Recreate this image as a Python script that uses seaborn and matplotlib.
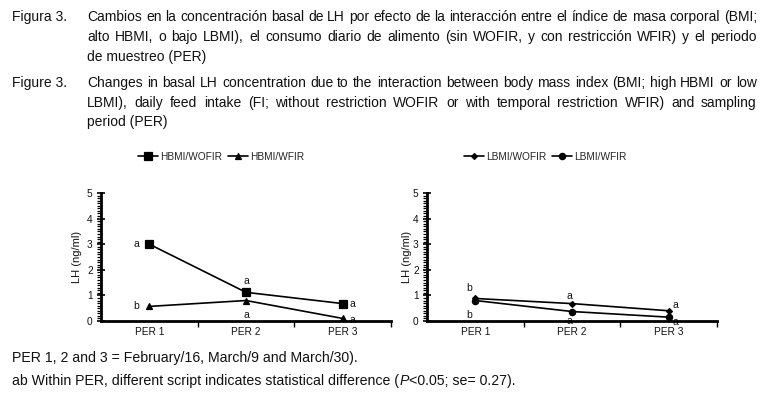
import matplotlib
matplotlib.use('Agg')
import matplotlib.pyplot as plt
import seaborn as sns
import pandas as pd
from matplotlib.ticker import MultipleLocator

# ---------------- data ----------------
periods = ['PER 1', 'PER 2', 'PER 3']
hbmi_wofir = [3.00, 1.12, 0.68]
hbmi_wfir = [0.57, 0.80, 0.10]
lbmi_wofir = [0.88, 0.68, 0.40]
lbmi_wfir = [0.80, 0.37, 0.15]
hbmi_wofir_letters = ['a', 'a', 'a']
hbmi_wfir_letters = ['b', 'a', 'a']
lbmi_wofir_letters = ['b', 'a', 'a']
lbmi_wfir_letters = ['b', 'a', 'a']
y_ticks = [0, 1, 2, 3, 4, 5]

caption_es = [
    "Cambios en la concentración basal de LH por efecto de la interacción entre el índice de masa corporal (BMI;",
    "alto HBMI, o bajo LBMI), el consumo diario de alimento (sin WOFIR, y con restricción WFIR) y el periodo",
    "de muestreo (PER)",
]
caption_en = [
    "Changes in basal LH concentration due to the interaction between body mass index (BMI; high HBMI or low",
    "LBMI), daily feed intake (FI; without restriction WOFIR or with temporal restriction WFIR) and sampling",
    "period (PER)",
]
footer_1 = "PER 1, 2 and 3 = February/16, March/9 and March/30)."
footer_2 = [("ab Within PER, different script indicates statistical difference (", 'normal'),
            ("P", 'italic'), ("<0.05; se= 0.27).", 'normal')]

# ---------------- style ----------------
sns.set_theme(style='white')
plt.rcParams['font.family'] = ['Liberation Sans', 'DejaVu Sans']
CAP_FONT = ['Liberation Sans Narrow', 'Liberation Sans', 'DejaVu Sans']
CAP_SIZE = 10
CAP_COLOR = '#111111'

W, H = 766, 394
fig = plt.figure(figsize=(W / 100, H / 100), dpi=100)
fig.patch.set_facecolor('white')


def fx(px):
    return px / W


def fy(py):
    return 1 - py / H


renderer = fig.canvas.get_renderer()


def text_width(s, style='normal', size=CAP_SIZE):
    t = fig.text(0, 0, s, fontsize=size, family=CAP_FONT, style=style)
    w = t.get_window_extent(renderer).width
    t.remove()
    return w


def advance(s, style='normal', size=CAP_SIZE):
    # pen advance of s, measured between two sentinel glyphs
    return (text_width('|' + s + '|', style, size)
            - text_width('||', style, size))


def put(x, ybase, s, style='normal', size=CAP_SIZE):
    fig.text(fx(round(x)), fy(ybase), s, fontsize=size, family=CAP_FONT,
             style=style, ha='left', va='baseline', color=CAP_COLOR)


def draw_justified(x0, ybase, line, x1):
    words = line.split(' ')
    total = advance(line)
    extra = (x1 - x0 - total) / (len(words) - 1)
    for i, w in enumerate(words):
        start = 0.0 if i == 0 else advance(' '.join(words[:i]) + ' ')
        put(x0 + start + extra * i, ybase, w)


def draw_runs(x0, ybase, runs, size=CAP_SIZE):
    x = x0
    for s, st in runs:
        put(x, ybase, s, st, size)
        x += advance(s, st, size)


# captions
put(12.5, 21, "Figura 3.")
draw_justified(87, 21, caption_es[0], 757)
draw_justified(87, 41, caption_es[1], 757)
put(87, 61, caption_es[2])
put(12.5, 87, "Figure 3.")
draw_justified(87, 87, caption_en[0], 757)
draw_justified(87, 107, caption_en[1], 757)
put(87, 126, caption_en[2])
put(12.5, 362, footer_1, size=10.2)
draw_runs(12.5, 385, footer_2, size=10.2)

# ---------------- axes ----------------
ax1 = fig.add_axes([fx(101), fy(321), fx(391) - fx(101), (321 - 193) / H])
ax2 = fig.add_axes([fx(427), fy(321), fx(717) - fx(427), (321 - 193) / H])

df1 = pd.DataFrame({'PER': periods * 2, 'LH': hbmi_wofir + hbmi_wfir,
                    'Group': ['HBMI/WOFIR'] * 3 + ['HBMI/WFIR'] * 3})
df2 = pd.DataFrame({'PER': periods * 2, 'LH': lbmi_wofir + lbmi_wfir,
                    'Group': ['LBMI/WOFIR'] * 3 + ['LBMI/WFIR'] * 3})

sns.pointplot(data=df1, x='PER', y='LH', hue='Group', markers=['s', '^'],
              palette=['black', 'black'], errorbar=None, ax=ax1,
              markersize=5.2, linewidth=1.2)
sns.pointplot(data=df2, x='PER', y='LH', hue='Group', markers=['D', 'o'],
              palette=['black', 'black'], errorbar=None, ax=ax2,
              markersize=4.5, linewidth=1.2)

for l in ax1.get_lines():
    if l.get_marker() == '^':
        l.set_markersize(4.2)
for l in ax2.get_lines():
    if l.get_marker() == 'D':
        l.set_markersize(3.0)

annot = [
    (ax1, hbmi_wofir, hbmi_wofir_letters, [(-13, 0), (0, 11), (10, 0)]),
    (ax1, hbmi_wfir, hbmi_wfir_letters, [(-13, 0), (0, -14), (10, -2)]),
    (ax2, lbmi_wofir, lbmi_wofir_letters, [(-6, 10), (-3, 8), (7, 6)]),
    (ax2, lbmi_wfir, lbmi_wfir_letters, [(-6, -14), (-3, -9), (7, -5)]),
]
for ax, vals, letters, offs in annot:
    for i, (v, lt, off) in enumerate(zip(vals, letters, offs)):
        ax.annotate(lt, (i, v), xytext=off, textcoords='offset pixels',
                    ha='center', va='center', fontsize=7.5, color='#111111',
                    zorder=2)

for ax, handles_pos in ((ax1, 138), (ax2, 464)):
    handles, labels = ax.get_legend_handles_labels()
    if ax.get_legend() is not None:
        ax.get_legend().remove()
    ax.legend(handles, labels, ncol=2, frameon=False, loc='center left',
              bbox_to_anchor=(fx(handles_pos), fy(157)),
              bbox_transform=fig.transFigure, fontsize=7.3, handlelength=2.0,
              handletextpad=0.15, columnspacing=0.6, borderaxespad=0,
              borderpad=0)

    ax.set_xlim(-0.5, 2.5)
    ax.set_ylim(0, 5)
    ax.set_xticks([0.5, 1.5, 2.5], labels=[])
    ax.set_xticks([0, 1, 2], labels=periods, minor=True)
    ax.set_yticks(y_ticks, labels=[str(t) for t in y_ticks])
    ax.yaxis.set_minor_locator(MultipleLocator(0.1))
    ax.tick_params(axis='x', which='major', direction='out', length=4,
                   width=1, color='black', bottom=True)
    ax.tick_params(axis='x', which='minor', length=0, labelsize=7.3, pad=4,
                   bottom=True, labelcolor='#111111')
    ax.tick_params(axis='y', which='major', direction='inout', length=6,
                   width=1.2, color='black', labelsize=7.3, pad=3, left=True,
                   labelcolor='#111111')
    ax.tick_params(axis='y', which='minor', direction='out', length=3,
                   width=0.9, color='black', left=True)
    for side in ('top', 'right'):
        ax.spines[side].set_visible(False)
    for side in ('left', 'bottom'):
        ax.spines[side].set_color('black')
        ax.spines[side].set_linewidth(2)
    ax.set_xlabel('')
    ax.set_ylabel('LH (ng/ml)', fontsize=8, color='#111111')
    ax.set_facecolor('white')

ax1.yaxis.set_label_coords((82 - 101) / 290, 0.5)
ax2.yaxis.set_label_coords((412 - 427) / 290, 0.5)

fig.savefig('out.png', dpi=100, facecolor='white')
